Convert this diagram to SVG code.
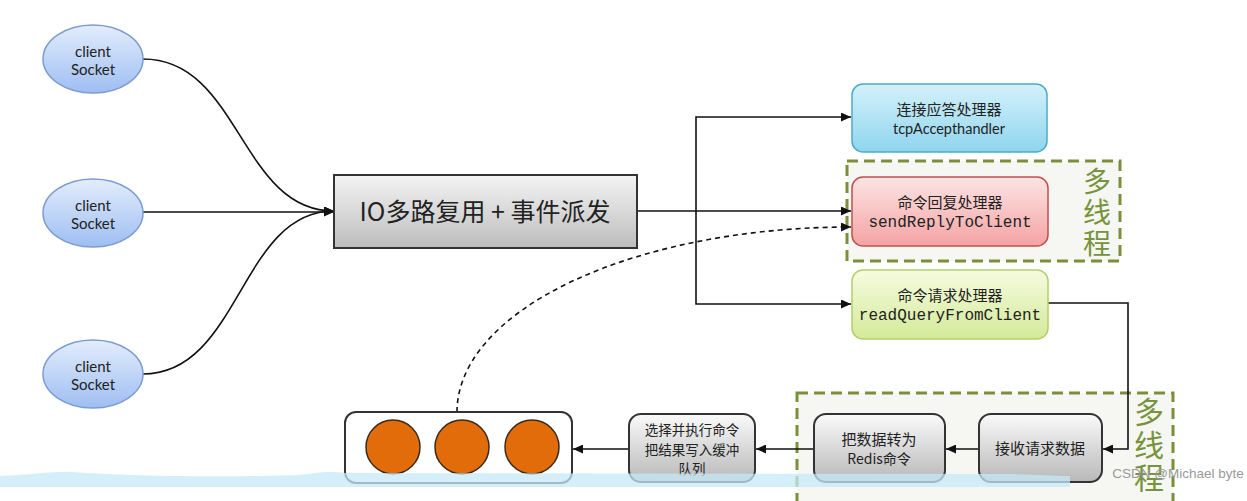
<svg xmlns="http://www.w3.org/2000/svg" width="1247" height="501" viewBox="0 0 1247 501">
<defs>
<linearGradient id="gEll" x1="0" y1="0" x2="0" y2="1"><stop offset="0" stop-color="#e3edfc"/><stop offset="1" stop-color="#9ebef2"/></linearGradient>
<linearGradient id="gMain" x1="0" y1="0" x2="0" y2="1"><stop offset="0" stop-color="#f4f4f4"/><stop offset="1" stop-color="#bdbdbd"/></linearGradient>
<linearGradient id="gGray" x1="0" y1="0" x2="0" y2="1"><stop offset="0" stop-color="#fafafa"/><stop offset="1" stop-color="#b8b8b8"/></linearGradient>
<linearGradient id="gBlue" x1="0" y1="0" x2="0" y2="1"><stop offset="0" stop-color="#d4f1fb"/><stop offset="1" stop-color="#8fd5ee"/></linearGradient>
<linearGradient id="gRed" x1="0" y1="0" x2="0" y2="1"><stop offset="0" stop-color="#fde4e4"/><stop offset="1" stop-color="#f4a3a3"/></linearGradient>
<linearGradient id="gGreen" x1="0" y1="0" x2="0" y2="1"><stop offset="0" stop-color="#f6fbe0"/><stop offset="1" stop-color="#d3ea98"/></linearGradient>
<marker id="arr" markerUnits="userSpaceOnUse" markerWidth="11" markerHeight="9" refX="10" refY="4.5" orient="auto"><path d="M0,0 L10,4.5 L0,9 z" fill="#111"/></marker>
<style>
.cjk{font-family:"Noto Sans CJK SC","Noto Sans",sans-serif;fill:#222;text-anchor:middle}
.lat{font-family:Lato,"Open Sans",sans-serif;fill:#222;text-anchor:middle}
.mono{font-family:"Liberation Mono","DejaVu Sans Mono",monospace;fill:#222;text-anchor:middle;font-size:16px}
.mt{font-family:"Noto Sans CJK SC",sans-serif;fill:#77933c;writing-mode:vertical-rl;letter-spacing:3px}
.grp{fill:#f6f7f2;stroke:#7b8f3a;stroke-width:3;stroke-dasharray:11 6}
.ln{fill:none;stroke:#111;stroke-width:1.6}
.gbox{fill:url(#gGray);stroke:#333;stroke-width:2}
.circ{fill:#e36c0a;stroke:#3a2a1a;stroke-width:1.5}
</style>
</defs>
<rect width="1247" height="501" fill="#fff"/>

<rect id="mt1" class="grp" x="847" y="161" width="273" height="100"/>
<rect id="mt2" class="grp" x="797" y="393" width="376" height="130"/>
<g id="mt1label"><text class="mt" x="1097" y="167" font-size="28">多线程</text></g>
<g id="mt2label"><text class="mt" x="1149" y="397" font-size="30">多线程</text></g>

<g id="connectors">
<path class="ln" d="M143,59 C240,59 240,211 334,211" marker-end="url(#arr)"/>
<path class="ln" d="M143,212 H334" marker-end="url(#arr)"/>
<path class="ln" d="M143,374 C240,374 240,211 334,211" marker-end="url(#arr)"/>
<path class="ln" d="M637,211 H851" marker-end="url(#arr)"/>
<path class="ln" d="M696,211 V117 H851" marker-end="url(#arr)"/>
<path class="ln" d="M696,211 V304 H851" marker-end="url(#arr)"/>
<path class="ln" d="M1048,303 H1128 V449 H1103" marker-end="url(#arr)"/>
<path class="ln" d="M979,449 H946" marker-end="url(#arr)"/>
<path class="ln" d="M814,449 H756" marker-end="url(#arr)"/>
<path class="ln" d="M629,449 H573" marker-end="url(#arr)"/>
<path class="ln" d="M457,412 A394,185 0 0 1 851,227" stroke-dasharray="5 4" marker-end="url(#arr)"/>
</g>

<g id="client1"><ellipse cx="93" cy="59" rx="50" ry="34" fill="url(#gEll)" stroke="#7c9bd0" stroke-width="1.5"/><text class="lat" x="93" y="57" font-size="15">client</text><text class="lat" x="93" y="75" font-size="15">Socket</text></g>
<g id="client2"><ellipse cx="93" cy="213" rx="50" ry="34" fill="url(#gEll)" stroke="#7c9bd0" stroke-width="1.5"/><text class="lat" x="93" y="211" font-size="15">client</text><text class="lat" x="93" y="229" font-size="15">Socket</text></g>
<g id="client3"><ellipse cx="93" cy="374" rx="50" ry="34" fill="url(#gEll)" stroke="#7c9bd0" stroke-width="1.5"/><text class="lat" x="93" y="372" font-size="15">client</text><text class="lat" x="93" y="390" font-size="15">Socket</text></g>

<g id="main"><rect x="334" y="175" width="303" height="73" fill="url(#gMain)" stroke="#333" stroke-width="2"/><text class="cjk" x="485" y="221" font-size="25">IO多路复用 + 事件派发</text></g>

<g id="tcpAccept"><rect x="852" y="84" width="195" height="68" rx="11" fill="url(#gBlue)" stroke="#4bacc6" stroke-width="1.5"/><text class="cjk" x="949" y="115" font-size="15">连接应答处理器</text><text class="lat" x="949" y="134" font-size="14.5">tcpAccepthandler</text></g>
<g id="sendReply"><rect x="852" y="177" width="196" height="69" rx="11" fill="url(#gRed)" stroke="#c0504d" stroke-width="1.5"/><text class="cjk" x="950" y="208" font-size="15">命令回复处理器</text><text class="mono" x="950" y="227">sendReplyToClient</text></g>
<g id="readQuery"><rect x="852" y="270" width="196" height="69" rx="11" fill="url(#gGreen)" stroke="#b3cf6a" stroke-width="1.5"/><text class="cjk" x="950" y="301" font-size="15">命令请求处理器</text><text class="mono" x="950" y="320">readQueryFromClient</text></g>

<g id="receive"><rect class="gbox" x="979" y="414" width="123" height="68" rx="12"/><text class="cjk" x="1040" y="454" font-size="15">接收请求数据</text></g>
<g id="toRedis"><rect class="gbox" x="814" y="414" width="131" height="68" rx="12"/><text class="cjk" x="879" y="445" font-size="15">把数据转为</text><text class="cjk" x="879" y="464" font-size="14">Redis命令</text></g>
<g id="execute"><rect class="gbox" x="629" y="414" width="126" height="68" rx="12"/><text class="cjk" font-size="13.5"><tspan x="692" y="435">选择并执行命令</tspan><tspan x="692" y="454.6">把结果写入缓冲</tspan><tspan x="692" y="474.2">队列</tspan></text></g>
<g id="queue"><rect x="345" y="412" width="227" height="71" rx="11" fill="#fff" stroke="#333" stroke-width="2"/><circle class="circ" cx="393" cy="447" r="27"/><circle class="circ" cx="462" cy="447" r="27"/><circle class="circ" cx="532" cy="447" r="27"/></g>

<path id="band" d="M0,476 C30,475 55,471 72,472 C110,475 200,478 300,475 C320,472 330,471 345,473 L1000,474 C1030,474 1050,476 1070,476 L1070,487 L0,487 Z" fill="#c6eaf7" opacity="0.75"/>
<text x="1178" y="478" font-family="Liberation Sans,Arial,sans-serif" font-size="13.5" fill="#9a9a9a" text-anchor="middle">CSDN @Michael byte</text>
</svg>
